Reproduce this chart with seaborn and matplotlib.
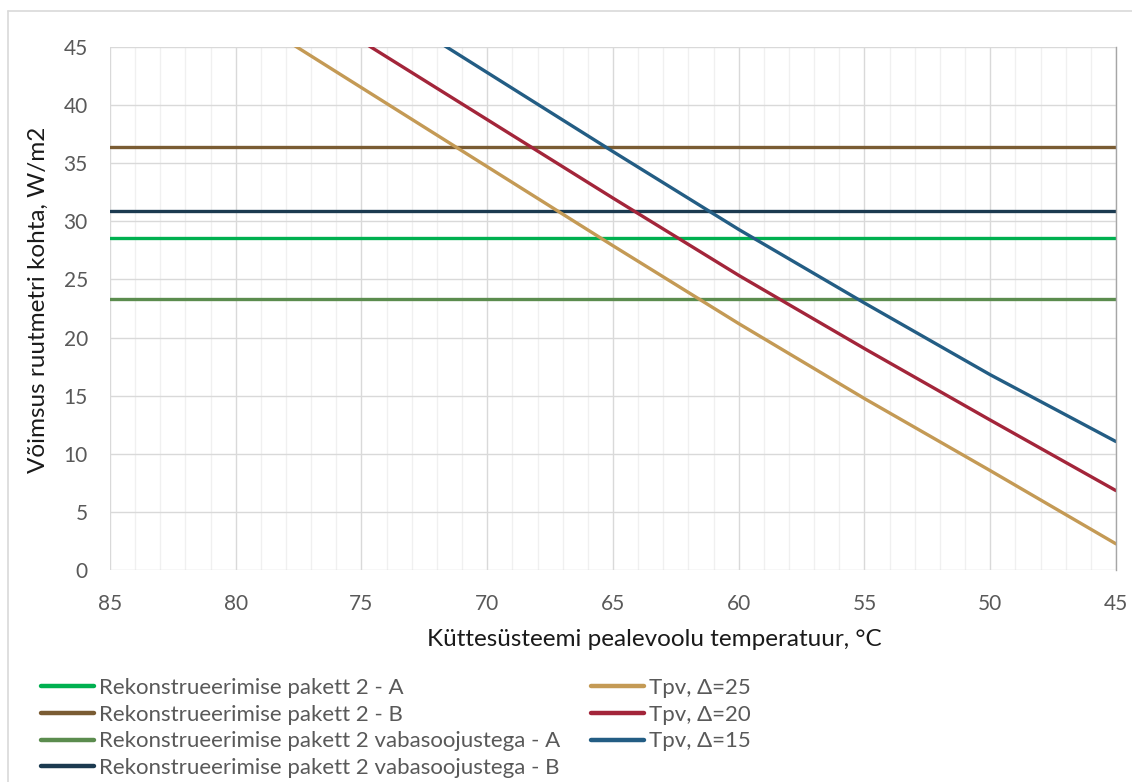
import matplotlib
matplotlib.use("Agg")
import matplotlib.pyplot as plt
from matplotlib.lines import Line2D
from matplotlib.ticker import MultipleLocator
import seaborn as sns
import pandas as pd

# ---------------- data ----------------
flat_labels = ["Rekonstrueerimise pakett 2 - A",
               "Rekonstrueerimise pakett 2 - B",
               "Rekonstrueerimise pakett 2 vabasoojustega - A",
               "Rekonstrueerimise pakett 2 vabasoojustega - B"]
flat_values = [28.6, 36.4, 23.3, 30.9]
flat_temps = [85, 45]

tpv_labels = ["Tpv, Δ=25", "Tpv, Δ=20", "Tpv, Δ=15"]
tpv25_temps = [80, 75, 70, 65, 60, 55, 50, 45]
tpv25_values = [48.3, 41.5, 34.7, 27.9, 21.2, 14.75, 8.55, 2.25]
tpv20_temps = [80, 75, 70, 65, 60, 55, 50, 45]
tpv20_values = [52.3, 45.5, 38.75, 32.0, 25.35, 19.05, 12.9, 6.83]
tpv15_temps = [75, 70, 65, 60, 55, 50, 45]
tpv15_values = [49.6, 42.8, 36.0, 29.3, 22.97, 16.8, 11.05]

x_ticks = [85, 80, 75, 70, 65, 60, 55, 50, 45]
y_ticks = [0, 5, 10, 15, 20, 25, 30, 35, 40, 45]

colors = ["#00B050", "#7A5C33", "#5B8C4E", "#1B3A50",
          "#C49A55", "#A3253A", "#235D84"]

x_title = "Küttesüsteemi pealevoolu temperatuur, °C"
y_title = "Võimsus ruutmetri kohta, W/m2"

# ---------------- build table ----------------
rows = []
for lab, val in zip(flat_labels, flat_values):
    for t in flat_temps:
        rows.append({"series": lab, "temp": t, "value": val})
for lab, ts, vs in zip(tpv_labels,
                       [tpv25_temps, tpv20_temps, tpv15_temps],
                       [tpv25_values, tpv20_values, tpv15_values]):
    for t, v in zip(ts, vs):
        rows.append({"series": lab, "temp": t, "value": v})
df = pd.DataFrame(rows)
order = flat_labels + tpv_labels
palette = dict(zip(order, colors))

# ---------------- plot ----------------
sns.set_theme(style="white")
plt.rcParams["font.family"] = ["Lato", "DejaVu Sans"]

W, H = 1132, 782
fig = plt.figure(figsize=(W / 100, H / 100), dpi=100)
L, R, T, B = 110, 1116, 47, 570
ax = fig.add_axes([L / W, 1 - B / H, (R - L) / W, (B - T) / H])

sns.lineplot(data=df, x="temp", y="value", hue="series", hue_order=order,
             palette=palette, linewidth=2.4, ax=ax, sort=False,
             estimator=None, legend=True)

ax.set_xlim(85, 45)
ax.set_ylim(0, 45)
ax.set_xticks(x_ticks)
ax.set_yticks(y_ticks)
ax.xaxis.set_minor_locator(MultipleLocator(1))
ax.grid(True, which="major", color="#D9D9D9", linewidth=1.0)
ax.grid(True, which="minor", axis="x", color="#F0F0F0", linewidth=1.0)
ax.set_axisbelow(True)
for s in ["top", "left", "bottom"]:
    ax.spines[s].set_visible(False)
ax.spines["right"].set_color("#A6A6A6")
ax.spines["right"].set_linewidth(1.0)

ax.tick_params(axis="both", which="both", length=0, labelsize=15,
               labelcolor="#595959")
ax.tick_params(axis="x", pad=17)
ax.tick_params(axis="y", pad=16)

ax.set_xlabel(x_title, fontsize=17.5, color="#1a1a1a", va="center")
ax.set_ylabel(y_title, fontsize=17.5, color="#1a1a1a", va="center")
ax.xaxis.set_label_coords((654 - L) / (R - L), (B - 640) / (B - T))
ax.yaxis.set_label_coords((38 - L) / (R - L), (B - 300) / (B - T))

handles, labels = ax.get_legend_handles_labels()
ax.get_legend().remove()
hmap = dict(zip(labels, handles))
for h in handles:
    h.set_linewidth(3.2)
    h.set_solid_capstyle("round")

leg_kw = dict(frameon=False, fontsize=16, labelcolor="#595959",
              handlelength=2.41, handletextpad=0.23, labelspacing=0.30,
              borderpad=0, borderaxespad=0, loc="upper left")
leg1 = fig.legend([hmap[l] for l in flat_labels], flat_labels,
                  bbox_to_anchor=(40.7 / W, 1 - 678 / H), **leg_kw)
leg2 = fig.legend([hmap[l] for l in tpv_labels], tpv_labels,
                  bbox_to_anchor=(590.7 / W, 1 - 678 / H), **leg_kw)

# outer chart-area border (top and left edges visible)
fig.add_artist(Line2D([8 / W, 8 / W], [0, 1 - 11 / H], color="#D9D9D9",
                      linewidth=1.2, transform=fig.transFigure))
fig.add_artist(Line2D([8 / W, 1], [1 - 11 / H, 1 - 11 / H], color="#D9D9D9",
                      linewidth=1.2, transform=fig.transFigure))

fig.savefig("out.png", dpi=100)
